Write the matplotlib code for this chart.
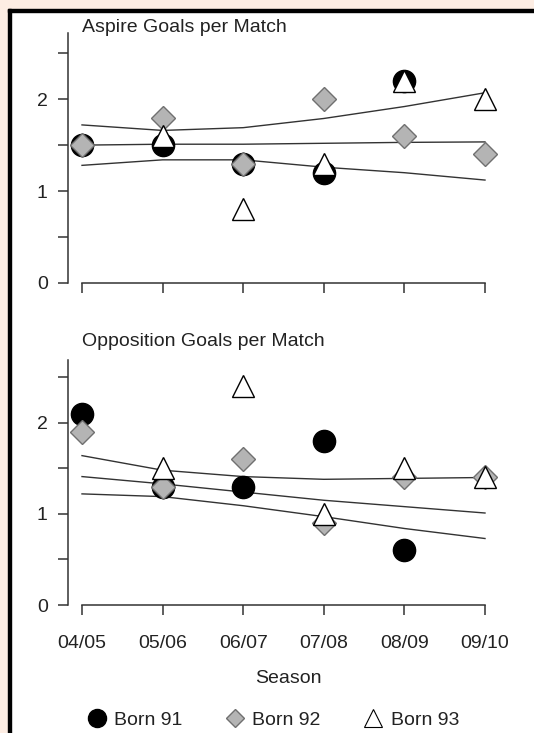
import matplotlib
matplotlib.use("Agg")
import matplotlib.pyplot as plt
from matplotlib.lines import Line2D
from matplotlib.patches import Rectangle
import numpy as np

plt.rcParams['font.family'] = ['Liberation Sans', 'DejaVu Sans']

seasons = ["04/05", "05/06", "06/07", "07/08", "08/09", "09/10"]

# Aspire goals per match
asp_91 = [1.5, 1.5, 1.3, 1.2, 2.2, np.nan]
asp_92 = [1.5, 1.8, 1.3, 2.0, 1.6, 1.4]
asp_93 = [np.nan, 1.6, 0.8, 1.3, 2.2, 2.0]
asp_upper = [1.72, 1.66, 1.69, 1.79, 1.92, 2.07]
asp_fit = [1.50, 1.51, 1.51, 1.52, 1.53, 1.535]
asp_lower = [1.28, 1.34, 1.34, 1.26, 1.20, 1.12]

# Opposition goals per match
opp_91 = [2.1, 1.3, 1.3, 1.8, 0.6, np.nan]
opp_92 = [1.9, 1.3, 1.6, 0.9, 1.4, 1.4]
opp_93 = [np.nan, 1.5, 2.4, 1.0, 1.5, 1.4]
opp_upper = [1.64, 1.48, 1.41, 1.38, 1.39, 1.40]
opp_fit = [1.41, 1.33, 1.24, 1.15, 1.08, 1.01]
opp_lower = [1.22, 1.19, 1.09, 0.97, 0.84, 0.73]

W, H = 534, 733
fig = plt.figure(figsize=(W / 100, H / 100), dpi=100, facecolor="white")

# peach frame strips and black border (left and top)
peach = "#fdede3"
fig.patches.append(Rectangle((0, 0), 8 / W, 1, transform=fig.transFigure, color=peach, zorder=0))
fig.patches.append(Rectangle((0, 1 - 9 / H), 1, 9 / H, transform=fig.transFigure, color=peach, zorder=0))
fig.patches.append(Rectangle((8 / W, 0), 3 / W, 1 - 9 / H, transform=fig.transFigure, color="black", zorder=1))
fig.patches.append(Rectangle((8 / W, 1 - 12 / H), 1 - 8 / W, 3 / H, transform=fig.transFigure, color="black", zorder=1))

ink = "#333333"
txt = "#222222"
fs = 14
x = np.arange(len(seasons))
step = 80.6
x_left = -(82 - 68) / step
x_right = 5 + (509 - 485) / step


def make_axes(bottom_px, top_px, ymax, show_xlabels):
    ax = fig.add_axes([68 / W, 1 - bottom_px / H, (509 - 68) / W, (bottom_px - top_px) / H])
    ax.set_facecolor("none")
    ax.set_xlim(x_left, x_right)
    ax.set_ylim(0, ymax)
    for s in ["top", "right"]:
        ax.spines[s].set_visible(False)
    for s in ["left", "bottom"]:
        ax.spines[s].set_color(ink)
        ax.spines[s].set_linewidth(1.1)
    ax.spines["bottom"].set_bounds(0, 5)
    ax.set_yticks([0, 0.5, 1, 1.5, 2, 2.5])
    ax.set_yticklabels(["0", "", "1", "", "2", ""])
    ax.set_xticks(x)
    if show_xlabels:
        ax.set_xticklabels(seasons)
    else:
        ax.set_xticklabels([])
    ax.tick_params(axis="both", length=7.5, width=1.1, color=ink, labelsize=fs,
                   labelcolor=txt)
    ax.tick_params(axis="y", pad=7)
    ax.tick_params(axis="x", pad=14)
    return ax


def draw(ax, s91, s92, s93, up, fit, lo):
    for line in (up, fit, lo):
        ax.plot(x, line, color=ink, lw=1.0, zorder=1)
    ax.plot(x, s91, linestyle="none", marker="o", markersize=16,
            markerfacecolor="black", markeredgecolor="black", zorder=3, clip_on=False)
    ax.plot(x, s92, linestyle="none", marker="D", markersize=12,
            markerfacecolor="#b4b4b4", markeredgecolor="#707070", markeredgewidth=1.0,
            zorder=4, clip_on=False)
    ax.plot(x, s93, linestyle="none", marker="^", markersize=16,
            markerfacecolor="white", markeredgecolor="black", markeredgewidth=1.0,
            zorder=5, clip_on=False)


ax1 = make_axes(283, 33, 2.72, False)
draw(ax1, asp_91, asp_92, asp_93, asp_upper, asp_fit, asp_lower)
fig.text(82 / W, 1 - 28 / H, "Aspire Goals per Match", fontsize=fs, color=txt,
         ha="left", va="center")

ax2 = make_axes(605, 360, 2.69, True)
draw(ax2, opp_91, opp_92, opp_93, opp_upper, opp_fit, opp_lower)
fig.text(82 / W, 1 - 342 / H, "Opposition Goals per Match", fontsize=fs, color=txt,
         ha="left", va="center")
ax2.set_xlabel("Season", fontsize=fs, color=txt, labelpad=13)

handles = [
    Line2D([], [], linestyle="none", marker="o", markersize=13, markerfacecolor="black",
           markeredgecolor="black"),
    Line2D([], [], linestyle="none", marker="D", markersize=9.5, markerfacecolor="#b4b4b4",
           markeredgecolor="#707070"),
    Line2D([], [], linestyle="none", marker="^", markersize=13, markerfacecolor="white",
           markeredgecolor="black", markeredgewidth=0.8),
]
fig.legend(handles, ["Born 91", "Born 92", "Born 93"], loc="center",
           bbox_to_anchor=(274 / W, 1 - 720 / H), ncol=3, frameon=False, fontsize=fs,
           handlelength=0.8, handletextpad=0.5, columnspacing=2.3, labelcolor=txt)

fig.savefig("out.png", dpi=100, facecolor="white")
